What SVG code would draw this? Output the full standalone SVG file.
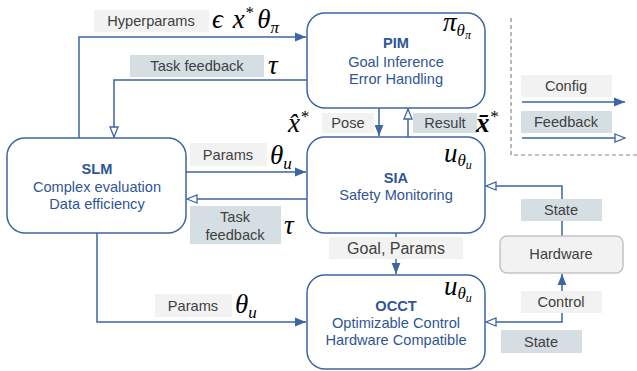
<svg xmlns="http://www.w3.org/2000/svg" width="637" height="371" viewBox="0 0 637 371">
<style>
.node{fill:#fff;stroke:#3c65a3;stroke-width:1.5}
.hw{fill:#f2f2f2;stroke:#c4c4c4;stroke-width:1.5}
.ln{fill:none;stroke:#3c65a3;stroke-width:1.5}
.lg{fill:#f2f2f2}
.lb{fill:#d5dfe3}
.lt{font-family:"Liberation Sans",Arial,sans-serif;font-size:14.6px;fill:#404040;text-anchor:middle}
.nt{font-family:"Liberation Sans",Arial,sans-serif;font-size:14.6px;fill:#2f5597;text-anchor:middle}
.nb{font-weight:bold}
.m{font-family:"Liberation Serif","Times New Roman",serif;font-style:italic;font-size:27px;fill:#000}
.s{font-size:17px}
.ss{font-size:12px}
</style>
<defs>
<marker id="sol" viewBox="0 0 10 10" refX="10" refY="5" markerWidth="11" markerHeight="11" markerUnits="userSpaceOnUse" orient="auto-start-reverse">
<path d="M0,1 L10,5 L0,9 z" fill="#3c65a3"/>
</marker>
<marker id="opn" viewBox="0 0 12 12" refX="11" refY="6" markerWidth="12" markerHeight="12" markerUnits="userSpaceOnUse" orient="auto-start-reverse">
<path d="M1,2 L11,6 L1,10 z" fill="#fff" stroke="#3c65a3" stroke-width="1.3"/>
</marker>
</defs>
<g id="legend">
<path d="M511,18 V155 H637" fill="none" stroke="#888" stroke-width="1.2" stroke-dasharray="4,3"/>
<rect class="lg" x="521" y="75" width="91" height="22"/>
<text class="lt" x="566" y="91">Config</text>
<path class="ln" d="M522,102 H625" marker-end="url(#sol)"/>
<rect class="lb" x="521" y="111" width="91" height="22"/>
<text class="lt" x="566" y="127">Feedback</text>
<path class="ln" d="M522,138 H625" marker-end="url(#opn)"/>
</g>
<g id="connectors">
<path class="ln" d="M79,138 V37 H306" marker-end="url(#sol)"/>
<path class="ln" d="M307,80 H114 V137" marker-end="url(#opn)"/>
<path class="ln" d="M186,172 H306" marker-end="url(#sol)"/>
<path class="ln" d="M307,199 H187" marker-end="url(#opn)"/>
<path class="ln" d="M97,233 V322 H306" marker-end="url(#sol)"/>
<path class="ln" d="M379,108 V136" marker-end="url(#sol)"/>
<path class="ln" d="M408,137 V109" marker-end="url(#opn)"/>
<path class="ln" d="M396,233 V274" marker-end="url(#sol)"/>
<path class="ln" d="M562,236 V186 H486" marker-end="url(#opn)"/>
<path class="ln" d="M486,322 H562 V274" marker-start="url(#opn)" marker-end="url(#sol)"/>

<rect class="lg" x="94" y="10" width="115" height="22"/>
<text class="lt" x="151" y="26">Hyperparams</text>
<text class="m" x="212" y="28">ϵ <tspan dx="3">x</tspan><tspan class="s" dy="-10">*</tspan><tspan dx="4" dy="10">θ</tspan><tspan class="s" dy="5">π</tspan></text>

<rect class="lb" x="130" y="55" width="134" height="22"/>
<text class="lt" x="197" y="71">Task feedback</text>
<text class="m" x="268" y="74">τ</text>

<rect class="lg" x="322" y="113" width="52" height="20"/>
<text class="lt" x="348" y="128">Pose</text>
<text class="m" x="288" y="132">x̂<tspan class="s" dy="-10">*</tspan></text>

<rect class="lb" x="413" y="113" width="64" height="20"/>
<text class="lt" x="445" y="128">Result</text>
<text class="m" x="476" y="132" font-style="normal" font-weight="bold">x̄<tspan class="s" dy="-10" font-weight="normal">*</tspan></text>

<rect class="lg" x="190" y="143" width="77" height="23"/>
<text class="lt" x="228" y="160">Params</text>
<text class="m" x="270" y="164">θ<tspan class="s" dy="5">u</tspan></text>

<rect class="lb" x="190" y="206" width="91" height="38"/>
<text class="lt" x="235" y="222">Task</text>
<text class="lt" x="235" y="240">feedback</text>
<text class="m" x="284" y="234">τ</text>

<rect class="lg" x="329" y="237" width="134" height="22"/>
<text class="lt" x="396" y="254" style="font-size:16px">Goal, Params</text>

<rect class="lb" x="521" y="199" width="81" height="22"/>
<text class="lt" x="561" y="215">State</text>

<rect class="lg" x="155" y="294" width="77" height="23"/>
<text class="lt" x="193" y="311">Params</text>
<text class="m" x="235" y="313">θ<tspan class="s" dy="5">u</tspan></text>

<rect class="lg" x="521" y="291" width="81" height="22"/>
<text class="lt" x="561" y="307">Control</text>

<rect class="lb" x="501" y="330" width="81" height="23"/>
<text class="lt" x="541" y="347">State</text>
</g>
<g id="PIM">
<rect class="node" x="307" y="13" width="178" height="95" rx="18"/>
<text class="nt nb" x="396" y="48">PIM</text>
<text class="nt" x="396" y="67">Goal Inference</text>
<text class="nt" x="396" y="84">Error Handling</text>
<text class="m" x="443" y="31">π<tspan class="s" dy="5">θ</tspan><tspan class="ss" dy="3">π</tspan></text>
</g>
<g id="SIA">
<rect class="node" x="307" y="137" width="178" height="96" rx="18"/>
<text class="nt nb" x="396" y="183">SIA</text>
<text class="nt" x="396" y="200">Safety Monitoring</text>
<text class="m" x="444" y="162">u<tspan class="s" dy="4">θ</tspan><tspan class="ss" dy="3">u</tspan></text>
</g>
<g id="SLM">
<rect class="node" x="7" y="138" width="179" height="95" rx="18"/>
<text class="nt nb" x="97" y="174">SLM</text>
<text class="nt" x="97" y="192">Complex evaluation</text>
<text class="nt" x="97" y="209">Data efficiency</text>
</g>
<g id="OCCT">
<rect class="node" x="307" y="275" width="178" height="94" rx="18"/>
<text class="nt nb" x="396" y="311">OCCT</text>
<text class="nt" x="396" y="328">Optimizable Control</text>
<text class="nt" x="396" y="345">Hardware Compatible</text>
<text class="m" x="444" y="295">u<tspan class="s" dy="4">θ</tspan><tspan class="ss" dy="3">u</tspan></text>
</g>
<g id="Hardware">
<rect class="hw" x="500" y="236" width="123" height="37" rx="7"/>
<text class="lt" x="561" y="259">Hardware</text>
</g>
</svg>
